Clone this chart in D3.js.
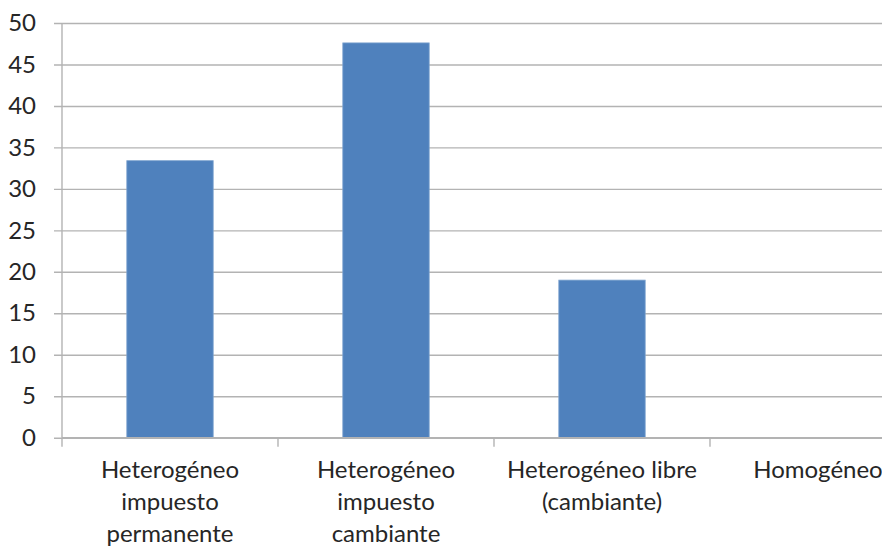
<!DOCTYPE html>
<html>
<head>
<meta charset="utf-8">
<script src="https://cdn.jsdelivr.net/npm/d3@7"></script>
<style>
  html, body { margin: 0; padding: 0; background: #fff; }
  svg { display: block; }
  text { font-family: Lato, "Open Sans", sans-serif; fill: #262626; }
</style>
</head>
<body>
<svg id="chart" width="882" height="548"></svg>
<script>
// Category labels (each entry is the list of lines shown under the axis)
const categories = [
  ["Heterogéneo", "impuesto", "permanente"],
  ["Heterogéneo", "impuesto", "cambiante"],
  ["Heterogéneo libre", "(cambiante)"],
  ["Homogéneo"]
];
const values = [33.4, 47.6, 19.0, 0];
const yTicks = [0, 5, 10, 15, 20, 25, 30, 35, 40, 45, 50];

const svg = d3.select("#chart");
const plotLeft = 62, plotTop = 23, plotBottom = 437.7;
const bandW = 216;
const plotRight = plotLeft + bandW * categories.length; // plot area runs past the right edge

const x = d3.scaleBand()
  .domain(d3.range(categories.length))
  .range([plotLeft, plotRight])
  .paddingInner(0.6)
  .paddingOuter(0.3);

const y = d3.scaleLinear().domain([0, 50]).range([plotBottom, plotTop]);

// Horizontal gridlines with short ticks on the left
const yAxis = d3.axisLeft(y)
  .tickValues(yTicks)
  .tickSize(-(plotRight - plotLeft))
  .tickPadding(26)
  .tickFormat(d3.format("d"));

const gy = svg.append("g")
  .attr("transform", `translate(${plotLeft},0)`)
  .call(yAxis);
gy.select(".domain").remove();
gy.selectAll(".tick line")
  .attr("x1", -8)
  .attr("stroke", "#b3b3b3")
  .attr("stroke-width", 1.4);
gy.selectAll(".tick text")
  .attr("font-size", 24)
  .attr("fill", "#262626");

// Vertical axis line
svg.append("line")
  .attr("x1", plotLeft).attr("x2", plotLeft)
  .attr("y1", y(50)).attr("y2", plotBottom)
  .attr("stroke", "#b3b3b3").attr("stroke-width", 1.4);

// Bars
svg.append("g").selectAll("rect")
  .data(values)
  .join("rect")
  .attr("x", (d, i) => x(i))
  .attr("width", x.bandwidth())
  .attr("y", d => y(d))
  .attr("height", d => plotBottom - y(d))
  .attr("fill", "#4f81bd")
  .attr("stroke", "#7ea3cf")
  .attr("stroke-width", d => d > 0 ? 0.8 : 0);

// Category axis: baseline plus tick marks at band boundaries
svg.append("line")
  .attr("x1", plotLeft).attr("x2", plotRight)
  .attr("y1", plotBottom).attr("y2", plotBottom)
  .attr("stroke", "#b3b3b3").attr("stroke-width", 1.4);

svg.append("g").selectAll("line")
  .data(d3.range(categories.length + 1))
  .join("line")
  .attr("x1", i => plotLeft + i * bandW)
  .attr("x2", i => plotLeft + i * bandW)
  .attr("y1", plotBottom)
  .attr("y2", plotBottom + 9)
  .attr("stroke", "#b3b3b3").attr("stroke-width", 1.4);

// Category labels
const labels = svg.append("g").selectAll("text")
  .data(categories)
  .join("text")
  .attr("text-anchor", "middle")
  .attr("font-size", 24)
  .attr("x", (d, i) => x(i) + x.bandwidth() / 2)
  .attr("y", plotBottom + 40);

labels.selectAll("tspan")
  .data(d => d)
  .join("tspan")
  .attr("x", function () { return d3.select(this.parentNode).attr("x"); })
  .attr("dy", (d, i) => i === 0 ? 0 : 32)
  .text(d => d);
</script>
</body>
</html>
